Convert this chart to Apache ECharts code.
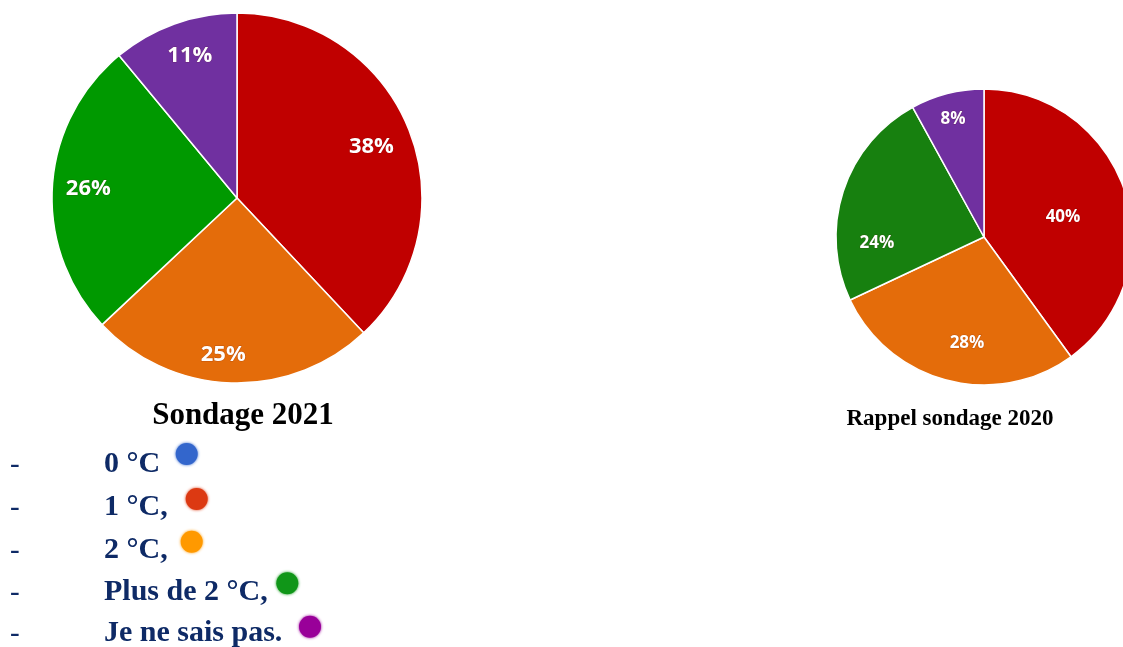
<!DOCTYPE html>
<html>
<head>
<meta charset="utf-8">
<script src="https://cdn.jsdelivr.net/npm/echarts@6/dist/echarts.min.js"></script>
<style>
  html, body { margin: 0; padding: 0; background: #ffffff; }
  #chart { width: 1123px; height: 647px; }
</style>
</head>
<body>
<div id="chart"></div>
<script>
// ---- Data ----
const categories = ['0 °C', '1 °C', '2 °C', 'Plus de 2 °C', 'Je ne sais pas'];
const values2021 = [0, 38, 25, 26, 11];
const values2020 = [0, 40, 28, 24, 8];
const legendLabels = ['0 °C', '1 °C,', '2 °C,', 'Plus de 2 °C,', 'Je ne sais pas.'];
const title2021 = 'Sondage 2021';
const title2020 = 'Rappel sondage 2020';

// ---- Styles ----
const colors2021 = ['#3366CC', '#C00000', '#E46C0A', '#009900', '#7030A0'];
const colors2020 = ['#3366CC', '#C00000', '#E46C0A', '#17800F', '#7030A0'];
const legendDotColors = ['#3366CC', '#DC3912', '#FF9900', '#109618', '#990099'];
const navy = '#0E2A66';

function buildData(values, colors) {
  const out = [];
  values.forEach(function (v, i) {
    if (v > 0) out.push({ name: categories[i], value: v, itemStyle: { color: colors[i] } });
  });
  return out;
}
function buildLabelData(values) {
  const out = [];
  values.forEach(function (v, i) {
    if (v > 0) out.push({ name: categories[i], value: v });
  });
  return out;
}

const chart = echarts.init(document.getElementById('chart'), null, { renderer: 'canvas' });

const L = { c: [237, 198], r: 185 };
const R = { c: [984, 237], r: 148 };

// small label nudges, keyed by category name
const nudge2021 = { '1 °C': [-6, 4], '2 °C': [-9, 6], 'Plus de 2 °C': [2, 0], 'Je ne sais pas': [4, 0] };
const nudge2020 = { '1 °C': [-28, 15], '2 °C': [11, -3], 'Plus de 2 °C': [0, 41], 'Je ne sais pas': [-3, -9] };

function pieBase(geom, data) {
  return {
    type: 'pie',
    center: geom.c,
    radius: [0, geom.r],
    startAngle: 90,
    clockwise: true,
    silent: true,
    animation: false,
    label: { show: false },
    labelLine: { show: false },
    itemStyle: { borderColor: '#ffffff', borderWidth: 1.5 },
    emphasis: { disabled: true },
    data: data
  };
}
function pieLabels(geom, data, inner, fontSize, nudge) {
  return {
    type: 'pie',
    center: geom.c,
    radius: [geom.r * inner, geom.r],
    startAngle: 90,
    clockwise: true,
    silent: true,
    animation: false,
    itemStyle: { color: 'rgba(0,0,0,0)', borderWidth: 0 },
    emphasis: { disabled: true },
    label: {
      show: true,
      position: 'inside',
      formatter: function (p) { return p.value + '%'; },
      color: '#ffffff',
      fontFamily: 'Open Sans',
      fontWeight: 'bold',
      fontSize: fontSize,
      textBorderColor: 'rgba(90,0,0,0.25)',
      textBorderWidth: 1
    },
    labelLine: { show: false },
    labelLayout: function (p) {
      const d = data[p.dataIndex];
      const n = d ? nudge[d.name] : null;
      return n ? { dx: n[0], dy: n[1] } : {};
    },
    data: data
  };
}

// Legend-like list (text + dots)
const rowY = [464.5, 507.5, 550.5, 592.5, 633.5];
const dotPos = [[186.7, 454], [196.7, 499], [191.7, 541.7], [287.3, 583.3], [310, 626.7]];
const graphics = [];
legendLabels.forEach(function (t, i) {
  graphics.push({
    type: 'text', silent: true,
    position: [10, rowY[i] + 1],
    style: { text: '-', fill: navy, font: '29px "Liberation Serif"', verticalAlign: 'middle' }
  });
  graphics.push({
    type: 'text', silent: true,
    position: [104, rowY[i]],
    style: { text: t, fill: navy, font: 'bold 30px "Liberation Serif"', verticalAlign: 'middle', align: 'left' }
  });
  graphics.push({
    type: 'circle', silent: true,
    shape: { cx: dotPos[i][0], cy: dotPos[i][1], r: 11 },
    style: { fill: legendDotColors[i], shadowBlur: 3, shadowColor: legendDotColors[i] }
  });
});
graphics.push({
  type: 'text', silent: true, position: [243, 416],
  style: { text: title2021, fill: '#000000', font: 'bold 31px "Liberation Serif"', align: 'center', verticalAlign: 'middle' }
});
graphics.push({
  type: 'text', silent: true, position: [950, 419],
  style: { text: title2020, fill: '#000000', font: 'bold 23px "Liberation Serif"', align: 'center', verticalAlign: 'middle' }
});

chart.setOption({
  backgroundColor: '#ffffff',
  animation: false,
  series: [
    pieBase(L, buildData(values2021, colors2021)),
    pieLabels(L, buildLabelData(values2021), 0.6, 22, nudge2021),
    pieBase(R, buildData(values2020, colors2020)),
    pieLabels(R, buildLabelData(values2020), 0.48, 17, nudge2020)
  ],
  graphic: graphics
});
</script>
</body>
</html>
